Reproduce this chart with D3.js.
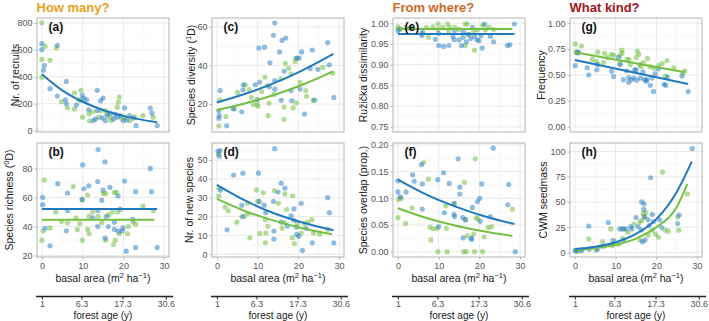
<!DOCTYPE html>
<html>
<head>
<meta charset="utf-8">
<script src="https://cdn.jsdelivr.net/npm/d3@7"></script>
<style>
body { margin: 0; background: #fff; }
text { font-family: "Liberation Sans", Arial, sans-serif; }
</style>
</head>
<body>
<div id="chart-area"></div>
<script>
// ---- data: [basal area, value] ----
var recruitsBlue = [[0,648],[0,603],[0.6,484],[0.4,449],[3.8,635],[2,312],[3.8,257],[6,366],[5.8,230],[6,200],[9.9,262],[10.3,240],[11,230],[11.5,155],[13.6,300],[14.4,222],[15,242],[13.6,150],[13.2,87],[12.6,75],[15.6,75],[16,112],[18,124],[18.4,100],[17.6,87],[20.3,170],[20,75],[20.8,80],[21.6,112],[23.1,37],[26.6,167],[27,130],[28.3,37],[19.2,112],[16.8,130],[14.8,95],[22.5,95],[8.5,190]];
var recruitsGreen = [[0,802],[0.8,628],[0,530],[2,523],[0,398],[3.5,615],[4.8,217],[6.3,170],[8,162],[9.6,300],[9.5,225],[9,230],[8,280],[10,100],[11.6,125],[11.7,72],[14,100],[14.4,150],[15.6,150],[16.8,100],[18.5,175],[18.8,212],[19,250],[17,75],[21.6,75],[22.8,100],[24.8,112],[27.3,100],[20.4,100],[12.5,140],[16,130],[19.5,90]];

var richnessBlue = [[13.8,93],[10,82.4],[15.5,84.5],[26.6,80],[0.2,60],[0.2,55],[0.8,38.8],[2,26.7],[3.9,69.5],[6.3,63],[6,37],[6.3,51],[9.9,58.5],[10.3,66],[11.5,68],[13.7,71],[13.7,51],[13.7,40],[14.7,58],[15,65],[15.5,32],[15.8,47],[16.7,67],[17.8,43],[17.8,38],[18.7,61],[18.8,36.8],[19.2,52],[19.9,39],[20.3,71.3],[19.7,37],[20.7,23],[23,25.6],[23,64],[22.3,45],[26.9,64],[28.3,25.6],[12.5,46],[16.3,40]];
var richnessGreen = [[0.3,37],[0,30.6],[0.6,72],[2,39],[3.4,50],[4.8,43.4],[6.3,42.5],[7.7,67.4],[8.4,46],[8.7,38],[9.3,42],[9.9,58.5],[9.9,30.6],[11.2,61.7],[11.2,38],[11.6,35],[11.6,47],[12.4,50],[13.8,47],[14.7,42.5],[15.1,62.7],[15.7,62.7],[15.7,30.6],[16.4,48],[17.3,50],[17.6,27.6],[17.8,63.5],[18.3,63.5],[18,30.6],[18.6,50],[19,35],[21,35],[21.2,40],[22.4,43],[23,41.5],[24.8,54],[27.4,51]];

var diversityBlue = [[14.2,62],[13.9,55.6],[16.9,54.2],[16,53],[10.3,49],[11.7,49.5],[15.4,47],[13,41.4],[20.8,47],[23.4,48],[27.2,51.8],[27.6,40.3],[28.7,23.4],[21.5,14.8],[22.9,38.4],[20.2,43.8],[19.6,43.8],[16.5,37],[14.2,32.2],[12.9,29],[10.5,31.4],[9.4,30],[6.5,30],[6.4,27.4],[0.8,27],[0.6,14],[0.5,16.6],[0.5,12.6],[2.4,8.7],[6.1,16],[4,17.5],[9.9,22.3],[14.2,27.7],[15.8,21.9],[18.4,21.7],[18.2,27],[20.4,27.8],[24,22],[24.8,38]];
var diversityGreen = [[0.5,8.6],[0.7,22],[2.2,13.5],[4.3,17.6],[5.1,26],[7,30],[7.9,27.5],[8.5,23.5],[9,19.6],[10.1,18.8],[9.9,20],[11.8,34],[12.4,29.5],[12.6,14],[12.8,20.5],[15.7,33],[16.5,18.4],[16.8,41],[17.6,38.5],[18.2,35.6],[18.7,18],[19.2,42],[19.4,43.7],[19.5,20.6],[20.4,31.3],[21.8,27],[22,24],[23.6,21.9],[26,39],[28.4,36],[16.5,12],[14,25],[11,26.5]];

var newSpeciesBlue = [[0.3,54.6],[0.6,52],[0.8,55],[14.2,56],[0.9,34],[2.5,12.9],[4.1,42],[6.4,43],[6.1,26],[6.2,20],[10.2,43],[10.4,28],[11.6,26],[12,22],[13.9,28],[14,12.3],[14,8],[15,33],[15.8,37.7],[16.7,35],[15.8,17],[17.3,15],[18.2,20.4],[18.9,24],[18.9,18],[19.5,14.3],[20.1,9.4],[20.7,27],[21,2],[19.6,10.5],[23.4,6],[27.2,30],[27.6,22],[28.7,6],[21.9,13.7]];
var newSpeciesGreen = [[0.5,35],[0.5,31],[0.4,53],[2,25],[2.8,23],[4.9,17],[7.5,27],[8.1,8.7],[7.5,21.4],[9.7,34],[10,28],[10.5,11],[11.4,32.6],[11.9,18.3],[12,11.2],[11.9,6],[14.1,33.6],[15.1,27],[16,13.8],[16.7,32],[17.1,23.7],[16.7,16.7],[18.6,31],[18.5,8.7],[19,5.6],[19.7,16.2],[20.7,11.2],[21.5,16.2],[22.3,17],[23.3,18.3],[23.7,11.2],[25.2,10.6],[27.2,13.2],[12.5,14.8],[6.7,20]];

var dissimBlue = [[0,0.982],[0.4,0.986],[5.9,0.970],[6.1,0.978],[10,0.946],[11.2,0.944],[12.5,0.946],[9.2,0.961],[13.5,0.968],[13.8,0.960],[13.9,0.982],[15,0.960],[16,0.966],[16.1,0.980],[15.6,0.946],[16.8,0.955],[17.2,0.973],[18.3,0.990],[17.9,0.963],[18.8,0.968],[19.4,0.960],[19.9,0.958],[20.4,0.970],[20.7,0.940],[21.3,0.998],[22.7,0.968],[23.5,0.955],[26.9,0.946],[27.5,0.948],[28.6,0.998],[10,0.975],[3,0.988]];
var dissimGreen = [[0,0.991],[0.6,0.986],[3.4,0.987],[5.9,0.975],[7.5,0.966],[8.6,0.991],[9.9,0.998],[9.8,0.985],[12.2,0.998],[12.7,0.990],[12.5,0.980],[15,0.985],[16.5,0.998],[17,0.998],[16.5,0.946],[17.5,0.972],[18.6,0.980],[18.8,0.935],[19.5,0.984],[20.8,0.995],[21.5,0.984],[22.3,0.990],[2,0.99],[7,0.99],[11,0.99],[14,0.99],[23.5,0.985]];

var overlapBlue = [[23.4,0.194],[0,0.133],[0,0.112],[0.6,0.103],[2,0.112],[3.6,0.144],[4,0.132],[5.8,0.163],[6,0.127],[6,0.08],[9.8,0.135],[10,0.047],[11.2,0.148],[11.4,0.073],[12.6,0.128],[13.8,0.09],[13.8,0.07],[13.9,0.066],[14.8,0.174],[15.2,0.121],[15.2,0.108],[15.9,0.064],[16,0.026],[16.6,0.06],[18,0.026],[18.1,0.023],[18.3,0.083],[19.5,0.094],[20.1,0.1],[20.6,0.127],[20.2,0.057],[22.7,0.066],[27.2,0.126],[27,0.088],[28.8,0]];
var overlapGreen = [[0,0.064],[0.2,0.098],[0.8,0.1],[1.9,0.053],[3.5,0.082],[6.3,0.167],[7.5,0.136],[7.9,0.046],[8.1,0.022],[8.7,0.043],[9.8,0],[9.6,0.044],[11.7,0.086],[11.9,0.044],[12.1,0],[13.8,0.09],[16.2,0],[16.8,0],[16.3,0.13],[16.6,0.06],[17,0.03],[18.6,0.033],[18.8,0],[19,0.174],[19.2,0.064],[19.6,0.061],[20.8,0],[21.2,0.028],[22.1,0.045],[23,0.047],[28.1,0.08]];

var frequencyBlue = [[0.1,0.59],[0.5,0.72],[0.9,0.72],[3,0.57],[3.4,0.50],[5.4,0.55],[5.6,0.60],[9,0.535],[9.5,0.485],[10.7,0.67],[11.1,0.60],[11.9,0.455],[12.7,0.54],[13.2,0.475],[13.2,0.43],[13.9,0.455],[14.5,0.47],[14.7,0.55],[15,0.55],[15.2,0.45],[16.1,0.47],[16.7,0.53],[17.1,0.455],[17.7,0.455],[17.5,0.44],[18.5,0.40],[18.9,0.47],[19.3,0.34],[19.7,0.51],[20.5,0.56],[21.9,0.41],[22.3,0.40],[22.7,0.48],[26.3,0.49],[27.8,0.34]];
var frequencyGreen = [[0.1,0.8],[0.3,0.72],[0.7,0.71],[1.6,0.78],[4.3,0.65],[5.3,0.63],[5.6,0.72],[7,0.62],[7.3,0.71],[8,0.67],[9,0.70],[9.5,0.69],[11.1,0.69],[11.1,0.61],[11.5,0.74],[11.6,0.71],[12.8,0.65],[13.3,0.65],[13.6,0.6],[15.1,0.67],[15.3,0.73],[15.7,0.70],[16,0.6],[16.2,0.58],[16.8,0.62],[17.8,0.66],[18.4,0.58],[19.4,0.565],[20.5,0.59],[21.4,0.61],[22.6,0.64],[22.2,0.49],[24.3,0.57],[27,0.54],[26.5,0.52]];

var seedmassBlue = [[28.8,103],[0.1,1.6],[0.6,2.3],[1.6,1.6],[3.5,3],[3.4,26],[5.5,3],[8.2,29.6],[9.4,12],[11,23.3],[11.7,23.3],[12.5,23.3],[13.7,25.6],[14,23.3],[15,34.6],[15.5,25.6],[16.3,22.3],[16.4,50],[17,48],[16.9,42.6],[17,35.3],[16.6,10.6],[17.2,12.3],[18.2,26.6],[18,32.3],[18.6,74],[19,37.6],[19.3,30.6],[20.8,32.3],[21.3,24.6],[25.2,28.6],[25.6,37],[7,6],[12,12]];
var seedmassGreen = [[0.1,2.3],[0.6,0.6],[1.8,3],[3.4,13.3],[5.2,2.3],[6.8,10.6],[8.8,23.3],[9.2,6.6],[10.7,8],[11.7,14],[11.9,23.3],[13,20],[14.5,28],[15.9,30],[16,12],[16.4,31.6],[16.8,38.3],[17.2,35],[17.4,39.6],[18,17],[19,22],[19.8,18],[21.5,79.6],[22.2,22],[22.9,21],[25.2,35],[25.5,22],[27.6,58],[20.5,15]];

// fitted curves, read at a few basal-area values
var recruitsFitBlue = [[0,420],[5,300],[10,215],[15,154],[20,110],[28.3,62]];
var richnessFitBlue = [[0,52],[28.3,52]];
var richnessFitGreen = [[0,44.6],[27.6,44.6]];
var diversityFitBlue = [[0,20.8],[7,25.3],[14,30.8],[21,37.5],[28.6,46]];
var diversityFitGreen = [[0,16.8],[7,20.4],[14,24.7],[21,30],[28.4,36.8]];
var newSpeciesFitBlue = [[0,36.8],[7,28.4],[14,21.7],[21,16.8],[28.6,12.7]];
var newSpeciesFitGreen = [[0,29.3],[7,22.8],[14,17.8],[21,13.8],[28.3,10.6]];
var dissimFitBlue = [[0,0.974],[28.6,0.974]];
var dissimFitGreen = [[0,0.986],[28.1,0.986]];
var overlapFitBlue = [[0,0.135],[7,0.107],[14,0.085],[21,0.067],[28.6,0.052]];
var overlapFitGreen = [[0,0.0815],[7,0.0633],[14,0.0493],[21,0.0384],[28.1,0.0295]];
var frequencyFitBlue = [[0,0.645],[27.8,0.413]];
var frequencyFitGreen = [[0,0.72],[27,0.526]];
var seedmassFitBlue = [[0,3],[5,5.5],[10,10],[15,18.3],[20,33],[25,60],[28.7,90]];
var seedmassFitGreen = [[0,2.3],[5,4.2],[10,7.6],[15,13.7],[20,25],[25,45],[27.6,68]];

var basalTicks = [0, 10, 20, 30];
var ageLabels = ["1", "6.3", "17.3", "30.6"];
var agePositions = [0, 9.7, 19.8, 30.4];
var groupTitles = ["How many?", "From where?", "What kind?"];

var blue = "#2179c0", green = "#74bf44";

var width = 709, height = 321;
var colLeft = [37, 212, 393, 570], panelW = 132;
var rowTop = [18, 143], panelH = 114;
var xDomain = [-1.2, 31.2];

var svg = d3.select("#chart-area").append("svg")
    .attr("width", width)
    .attr("height", height);

var f0 = d3.format(".0f"), f2 = d3.format(".2f");

// title parts: strings or ["sup text"]
var panels = [
    {id: "(a)", col: 0, row: 0, blue: recruitsBlue, green: recruitsGreen, fitB: recruitsFitBlue, fitG: null,
     yDomain: [-10, 838], yTicks: [0, 200, 400, 600, 800], fmt: f0, title: ["Nr. of recruits"], tx: 19},
    {id: "(b)", col: 0, row: 1, blue: richnessBlue, green: richnessGreen, fitB: richnessFitBlue, fitG: richnessFitGreen,
     yDomain: [19, 97.5], yTicks: [20, 40, 60, 80], fmt: f0, title: ["Species richness (", ["0"], "D)"], tx: 13},
    {id: "(c)", col: 1, row: 0, blue: diversityBlue, green: diversityGreen, fitB: diversityFitBlue, fitG: diversityFitGreen,
     yDomain: [5.5, 64.6], yTicks: [20, 40, 60], fmt: f0, title: ["Species diversity (", ["1"], "D)"], tx: 195},
    {id: "(d)", col: 1, row: 1, blue: newSpeciesBlue, green: newSpeciesGreen, fitB: newSpeciesFitBlue, fitG: newSpeciesFitGreen,
     yDomain: [-1.5, 59], yTicks: [0, 10, 20, 30, 40, 50], fmt: f0, title: ["Nr. of new species"], tx: 193},
    {id: "(e)", col: 2, row: 0, blue: dissimBlue, green: dissimGreen, fitB: dissimFitBlue, fitG: dissimFitGreen,
     yDomain: [0.7375, 1.0125], yTicks: [0.75, 0.80, 0.85, 0.90, 0.95, 1.00], fmt: f2, title: ["Ru\u017Ei\u010Dka dissimilarity"], tx: 367},
    {id: "(f)", col: 2, row: 1, blue: overlapBlue, green: overlapGreen, fitB: overlapFitBlue, fitG: overlapFitGreen,
     yDomain: [-0.0099, 0.2037], yTicks: [0, 0.05, 0.10, 0.15, 0.20], fmt: f2, title: ["Species overlap (prop.)"], tx: 367},
    {id: "(g)", col: 3, row: 0, blue: frequencyBlue, green: frequencyGreen, fitB: frequencyFitBlue, fitG: frequencyFitGreen,
     yDomain: [-0.05, 1.05], yTicks: [0, 0.25, 0.50, 0.75, 1.00], fmt: f2, title: ["Frequency"], tx: 545},
    {id: "(h)", col: 3, row: 1, blue: seedmassBlue, green: seedmassGreen, fitB: seedmassFitBlue, fitG: seedmassFitGreen,
     yDomain: [-4.6, 108.5], yTicks: [0, 25, 50, 75, 100], fmt: f0, title: ["CWM seedmass"], tx: 547}
];

function richText(sel, parts, size) {
    var wasSup = false;
    parts.forEach(function(p) {
        if (typeof p === "string") {
            sel.append("tspan").attr("font-size", size).attr("dy", wasSup ? size * 0.38 : 0).text(p);
            wasSup = false;
        } else {
            sel.append("tspan").attr("font-size", size * 0.72).attr("dy", wasSup ? 0 : -size * 0.38).text(p[0]);
            wasSup = true;
        }
    });
}

panels.forEach(function(p) {
    var left = colLeft[p.col], top = rowTop[p.row];
    var x = d3.scaleLinear().domain(xDomain).range([left, left + panelW]);
    var y = d3.scaleLinear().domain(p.yDomain).range([top + panelH, top]);
    var g = svg.append("g");

    // grid
    var xMinor = [5, 15, 25];
    var step = p.yTicks[1] - p.yTicks[0];
    var yMinor = d3.range(p.yTicks[0] - step / 2, p.yDomain[1], step).filter(function(v) { return v > p.yDomain[0]; });
    g.selectAll(".xmin").data(xMinor).enter().append("line")
        .attr("x1", x).attr("x2", x).attr("y1", top).attr("y2", top + panelH)
        .attr("stroke", "#f3f3f3").attr("stroke-width", 0.6);
    g.selectAll(".ymin").data(yMinor).enter().append("line")
        .attr("y1", y).attr("y2", y).attr("x1", left).attr("x2", left + panelW)
        .attr("stroke", "#f3f3f3").attr("stroke-width", 0.6);
    g.selectAll(".xmaj").data(basalTicks).enter().append("line")
        .attr("x1", x).attr("x2", x).attr("y1", top).attr("y2", top + panelH)
        .attr("stroke", "#e4e4e4").attr("stroke-width", 0.8);
    g.selectAll(".ymaj").data(p.yTicks).enter().append("line")
        .attr("y1", y).attr("y2", y).attr("x1", left).attr("x2", left + panelW)
        .attr("stroke", "#e4e4e4").attr("stroke-width", 0.8);

    // points
    g.append("g").selectAll("circle").data(p.green).enter().append("circle")
        .attr("cx", function(d) { return x(d[0]); })
        .attr("cy", function(d) { return y(d[1]); })
        .attr("r", 2.6).attr("fill", green).attr("fill-opacity", 0.55);
    g.append("g").selectAll("circle").data(p.blue).enter().append("circle")
        .attr("cx", function(d) { return x(d[0]); })
        .attr("cy", function(d) { return y(d[1]); })
        .attr("r", 2.6).attr("fill", blue).attr("fill-opacity", 0.5);

    // fits
    var line = d3.line().x(function(d) { return x(d[0]); }).y(function(d) { return y(d[1]); })
        .curve(d3.curveMonotoneX);
    if (p.fitG) g.append("path").attr("d", line(p.fitG)).attr("fill", "none").attr("stroke", green).attr("stroke-width", 2);
    g.append("path").attr("d", line(p.fitB)).attr("fill", "none").attr("stroke", blue).attr("stroke-width", 2);

    // border
    g.append("rect").attr("x", left).attr("y", top).attr("width", panelW).attr("height", panelH)
        .attr("fill", "none").attr("stroke", "#b3b3b3").attr("stroke-width", 1);

    // panel label
    g.append("text").attr("x", left + 11.5).attr("y", top + 12.5)
        .attr("font-size", 12).attr("font-weight", "bold").attr("fill", "#111").text(p.id);

    // y axis
    var yAxis = g.append("g").attr("transform", "translate(" + left + ",0)")
        .call(d3.axisLeft(y).tickValues(p.yTicks).tickFormat(p.fmt).tickSize(2.5).tickPadding(2));
    yAxis.select(".domain").remove();
    yAxis.selectAll("line").attr("stroke", "#b3b3b3");
    yAxis.selectAll("text").attr("font-size", 9).attr("fill", "#555").attr("font-family", null);

    // y title
    var yt = g.append("text")
        .attr("transform", "translate(" + p.tx + "," + (top + panelH / 2) + ") rotate(-90)")
        .attr("text-anchor", "middle").attr("fill", "#1a1a1a");
    richText(yt, p.title, 10.5);

    if (p.row === 1) {
        var xAxis = g.append("g").attr("transform", "translate(0," + (top + panelH) + ")")
            .call(d3.axisBottom(x).tickValues(basalTicks).tickSize(2.5).tickPadding(3));
        xAxis.select(".domain").remove();
        xAxis.selectAll("line").attr("stroke", "#b3b3b3");
        xAxis.selectAll("text").attr("font-size", 9).attr("fill", "#555").attr("font-family", null);

        var xt = g.append("text").attr("x", left + panelW / 2).attr("y", 282)
            .attr("text-anchor", "middle").attr("fill", "#1a1a1a");
        richText(xt, ["basal area (m", ["2"], " ha", ["\u22121"], ")"], 10.5);

        // secondary forest age axis
        var ageAxis = g.append("g").attr("transform", "translate(0,296.5)")
            .call(d3.axisBottom(x).tickValues(agePositions).tickSizeOuter(0).tickSize(3).tickPadding(1.2)
                .tickFormat(function(d, i) { return ageLabels[i]; }));
        ageAxis.select(".domain").attr("stroke", "#222").attr("stroke-width", 1.3)
            .attr("d", "M" + (x(xDomain[0]) - 1) + ",0H" + (x(xDomain[1]) + 4));
        ageAxis.selectAll("line").attr("stroke", "#222");
        ageAxis.selectAll("text").attr("font-size", 9).attr("fill", "#555").attr("font-family", null);

        g.append("text").attr("x", left + panelW / 2).attr("y", 318.6)
            .attr("text-anchor", "middle").attr("font-size", 10).attr("fill", "#1a1a1a")
            .text("forest age (y)");
    }
});

// group titles
var titleCols = [0, 2, 3], titleColors = ["#e8a11b", "#d2691e", "#a5161a"];
svg.selectAll(".grp").data(groupTitles).enter().append("text")
    .attr("x", function(d, i) { return colLeft[titleCols[i]] - 0.5; })
    .attr("y", 12)
    .attr("font-size", 13).attr("font-weight", "bold")
    .attr("fill", function(d, i) { return titleColors[i]; })
    .text(function(d) { return d; });
</script>
</body>
</html>
